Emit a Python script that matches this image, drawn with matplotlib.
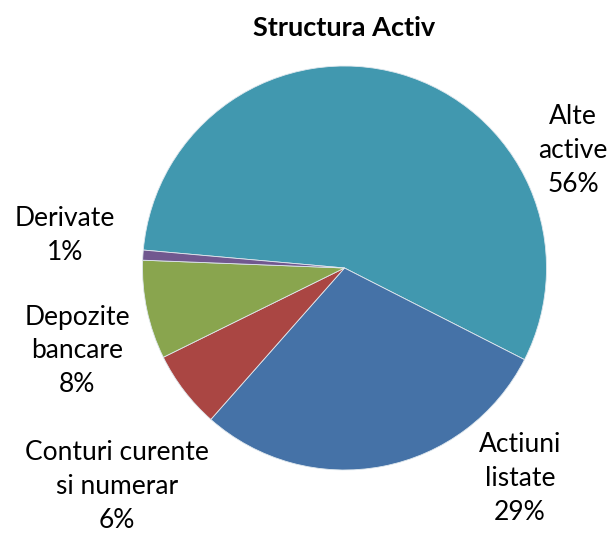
import matplotlib
matplotlib.use("Agg")
import matplotlib.pyplot as plt

# data, clockwise from the left edge
labels = ["Alte\nactive", "Actiuni\nlistate", "Conturi curente\nsi numerar", "Depozite\nbancare", "Derivate"]
values = [56.05, 29.0, 6.2, 7.9, 0.8]
colors = ["#4198AF", "#4572A7", "#AA4643", "#89A54E", "#71588F"]

# label centres in pixel coords (x, y from top)
label_pos = [(573, 151), (520, 479), (117, 486), (77, 351), (65, 236)]

W, H = 613, 534
fig = plt.figure(figsize=(W / 100, H / 100), dpi=100)
ax = fig.add_axes([0, 0, 1, 1])

ax.pie(values, colors=colors, startangle=174.9, counterclock=False,
       center=(344.5, H - 268), radius=202, frame=True,
       wedgeprops=dict(edgecolor="#dfe8ee", linewidth=0.6))
ax.set_xlim(0, W)
ax.set_ylim(0, H)
ax.set_aspect("equal")
ax.axis("off")

for lab, v, (x, y) in zip(labels, values, label_pos):
    ax.text(x, H - y, "{}\n{:.0f}%".format(lab, v), ha="center", va="center",
            fontsize=19, family="Lato", linespacing=1.45, color="black")

ax.text(344, H - 28, "Structura Activ", ha="center", va="center",
        fontsize=19.5, fontweight="bold", family="Lato")

fig.savefig("out.png", dpi=100)
